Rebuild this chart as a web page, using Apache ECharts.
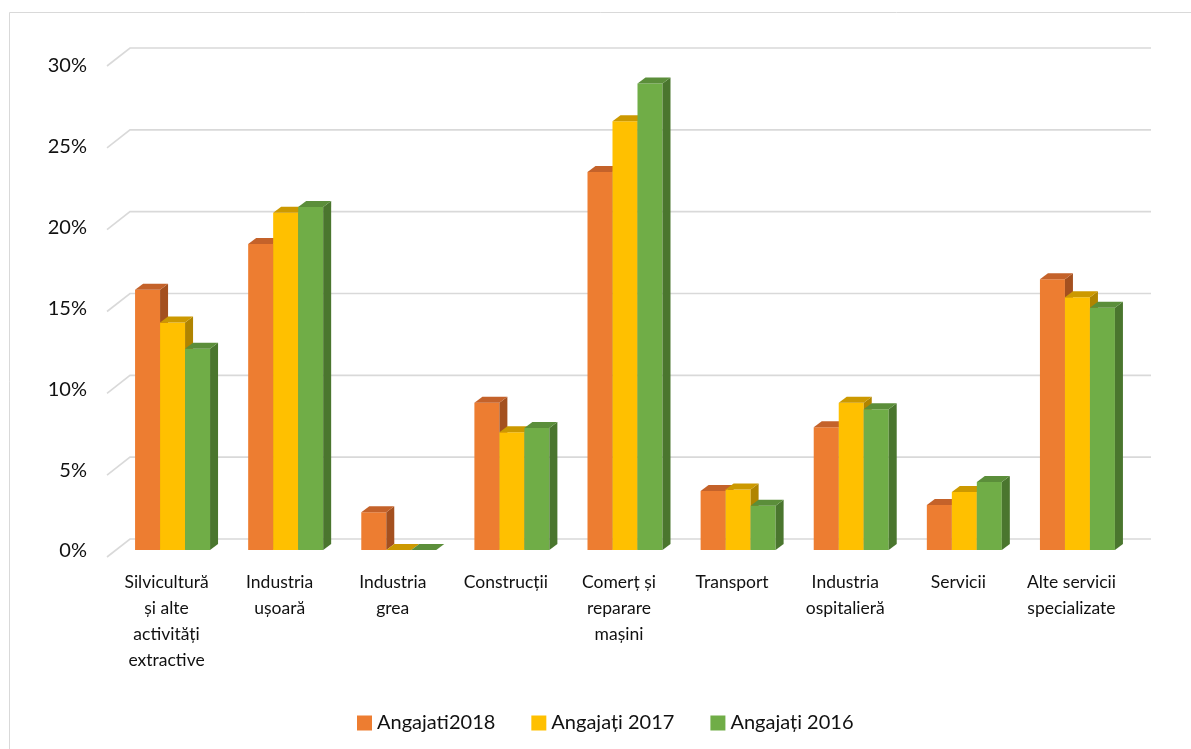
<!DOCTYPE html>
<html>
<head>
<meta charset="utf-8">
<script src="https://cdn.jsdelivr.net/npm/echarts@6/dist/echarts.min.js"></script>
<style>html,body{margin:0;padding:0;background:#fff}#c{width:1191px;height:749px}</style>
</head>
<body>
<div id="c"></div>
<script>
const categories = [
  'Silvicultură\nși alte\nactivități\nextractive',
  'Industria\nușoară',
  'Industria\ngrea',
  'Construcții',
  'Comerț și\nreparare\nmașini',
  'Transport',
  'Industria\nospitalieră',
  'Servicii',
  'Alte servicii\nspecializate'
];
const seriesNames = ['Angajati2018', 'Angajați 2017', 'Angajați 2016'];
const angajati2018 = [15.9, 18.7, 2.3, 9.0, 23.1, 3.6, 7.5, 2.75, 16.55];
const angajati2017 = [13.9, 20.6, 0, 7.2, 26.2, 3.7, 9.0, 3.55, 15.45];
const angajati2016 = [12.3, 20.95, 0, 7.45, 28.5, 2.7, 8.6, 4.15, 14.8];
const yTicks = [0, 5, 10, 15, 20, 25, 30];

const faceColors = [
  {front: '#ED7D31', top: '#C4622A', side: '#A4501F'},
  {front: '#FFC000', top: '#CC9900', side: '#B08400'},
  {front: '#70AD47', top: '#5B8E3A', side: '#4A762E'}
];
const DX = 8, DY = -6;

function makeBarRender(si) {
  return function (params, api) {
    const ci = api.value(0), v = api.value(1);
    const base = api.coord([ci, 0]);
    const top = api.coord([ci, v]);
    const band = api.size([1, 0])[0];
    const bw = band * 0.221;
    const x0 = base[0] - bw * 1.5 + si * bw;
    const c = faceColors[si];
    const yt = top[1], yb = base[1];
    const children = [];
    if (yb - yt > 0.5) {
      children.push({type: 'rect', shape: {x: x0, y: yt, width: bw, height: yb - yt}, style: {fill: c.front}});
      children.push({type: 'polygon', shape: {points: [[x0 + bw, yt], [x0 + bw + DX, yt + DY], [x0 + bw + DX, yb + DY], [x0 + bw, yb]]}, style: {fill: c.side}});
    }
    children.push({type: 'polygon', shape: {points: [[x0, yt], [x0 + DX, yt + DY], [x0 + bw + DX, yt + DY], [x0 + bw, yt]]}, style: {fill: c.top}});
    return {type: 'group', children: children};
  };
}

function gridRender(params, api) {
  const cs = params.coordSys;
  const y = api.coord([0, api.value(1)])[1];
  return {
    type: 'polyline',
    shape: {points: [[cs.x - 9, y + 7], [cs.x + 14, y - 11], [cs.x + cs.width + 17, y - 11]]},
    style: {stroke: '#D9D9D9', lineWidth: 1.6, fill: null}
  };
}

const allValues = [angajati2018, angajati2017, angajati2016];
const series = [{
  type: 'custom', name: '_grid', renderItem: gridRender, clip: false, silent: true, z: 1,
  xAxisIndex: 0, yAxisIndex: 0,
  data: yTicks.map(t => [0, t]), encode: {x: 0, y: 1}
}];
allValues.forEach((vals, si) => {
  series.push({
    type: 'custom', name: seriesNames[si], renderItem: makeBarRender(si), clip: false, z: 2 + si,
    xAxisIndex: 0, yAxisIndex: 0,
    itemStyle: {color: faceColors[si].front},
    data: vals.map((v, i) => [i, v]), encode: {x: 0, y: 1}
  });
});

const chart = echarts.init(document.getElementById('c'));
chart.setOption({
  backgroundColor: '#ffffff',
  animation: false,
  textStyle: {fontFamily: 'Lato'},
  graphic: [{type: 'rect', shape: {x: 9.5, y: 12.5, width: 1300, height: 800}, style: {fill: null, stroke: '#D9D9D9', lineWidth: 1}, silent: true, z: -10}],
  grid: [
    {left: 116, right: 57, top: 59, bottom: 199, containLabel: false},
    {left: 116, right: 57, top: 66, bottom: 198, containLabel: false}
  ],
  xAxis: [{
    type: 'category', data: categories, gridIndex: 0,
    axisLine: {show: false}, axisTick: {show: false}, splitLine: {show: false},
    axisLabel: {interval: 0, margin: 19, fontSize: 17.5, lineHeight: 26, color: '#111', fontFamily: 'Lato', padding: [0, 12, 0, 0]}
  }, {
    type: 'category', data: categories, gridIndex: 1, show: false
  }],
  yAxis: [{
    type: 'value', min: 0, max: 30, interval: 5, gridIndex: 0,
    axisLine: {show: false}, axisTick: {show: false}, splitLine: {show: false}, axisLabel: {show: false}
  }, {
    type: 'value', min: 0, max: 30, interval: 5, gridIndex: 1,
    axisLine: {show: false}, axisTick: {show: false}, splitLine: {show: false},
    axisLabel: {formatter: '{value}%', margin: 29, fontSize: 20, color: '#111', fontFamily: 'Lato'}
  }],
  legend: {
    data: seriesNames, left: 352, top: 708, itemWidth: 15, itemHeight: 15, itemGap: 36, icon: 'rect',
    textStyle: {fontSize: 20, color: '#111', fontFamily: 'Lato'}
  },
  series: series
});
</script>
</body>
</html>
